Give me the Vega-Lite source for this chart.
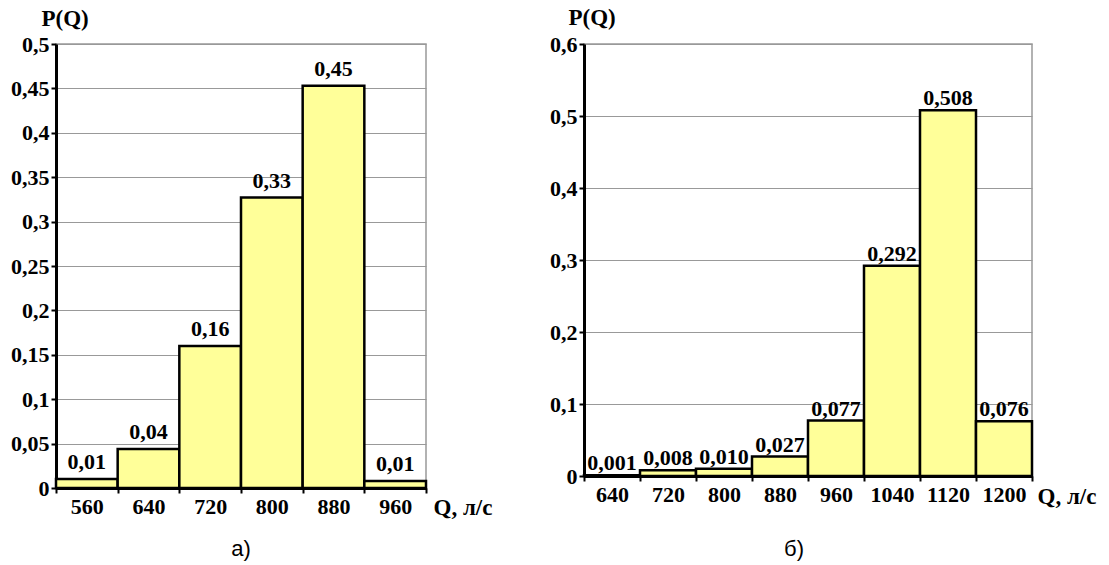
{
  "$schema": "https://vega.github.io/schema/vega-lite/v6.json",
  "background": "white",
  "padding": {"left": 9, "top": 5, "right": 5, "bottom": 5},
  "spacing": 55,
  "config": {
    "locale": {"number": {"decimal": ",", "thousands": " ", "grouping": [3], "currency": ["", ""]}},
    "font": "Liberation Serif",
    "view": {"stroke": "#999999", "strokeWidth": 1.5},
    "axis": {
      "domainColor": "black",
      "domainWidth": 3,
      "tickColor": "black",
      "tickWidth": 2,
      "tickSize": 5,
      "labelColor": "black",
      "labelFont": "Liberation Serif",
      "labelFontSize": 22,
      "labelFontWeight": "bold",
      "titleColor": "black",
      "titleFont": "Liberation Serif",
      "titleFontSize": 23,
      "titleFontWeight": "bold",
      "titleAngle": 0,
      "titleAlign": "left",
      "titleBaseline": "middle",
      "gridColor": "#999999",
      "gridWidth": 1.2
    }
  },
  "hconcat": [
    {
      "width": 370,
      "height": 444,
      "title": {"text": "а)", "orient": "bottom", "anchor": "middle", "frame": "group", "font": "Liberation Sans", "fontSize": 22, "fontWeight": "normal", "color": "black", "offset": 20},
      "data": {"values": [
        {"Q": 560, "P": 0.01},
        {"Q": 640, "P": 0.044},
        {"Q": 720, "P": 0.16},
        {"Q": 800, "P": 0.327},
        {"Q": 880, "P": 0.453},
        {"Q": 960, "P": 0.008}
      ]},
      "encoding": {
        "x": {"field": "Q", "type": "ordinal", "scale": {"paddingInner": 0, "paddingOuter": 0},
          "axis": {"title": "Q, л/с", "titleX": 377, "titleY": 19, "labelAngle": 0, "tickBand": "extent", "grid": false, "labelPadding": 3}},
        "y": {"field": "P", "type": "quantitative", "scale": {"domain": [0, 0.5]},
          "axis": {"title": "P(Q)", "titleX": -15, "titleY": -26, "values": [0, 0.05, 0.1, 0.15, 0.2, 0.25, 0.3, 0.35, 0.4, 0.45, 0.5], "format": "~g", "grid": true, "labelPadding": 2}}
      },
      "layer": [
        {"mark": {"type": "bar", "fill": "#ffff99", "stroke": "black", "strokeWidth": 2.5}},
        {"mark": {"type": "text", "baseline": "alphabetic", "dy": -10, "fontSize": 22, "fontWeight": "bold", "font": "Liberation Serif", "color": "black"},
          "encoding": {"text": {"field": "P", "type": "quantitative", "format": ".2f"}}}
      ]
    },
    {
      "width": 448,
      "height": 432,
      "title": {"text": "б)", "orient": "bottom", "anchor": "middle", "frame": "group", "dx": -14, "font": "Liberation Sans", "fontSize": 22, "fontWeight": "normal", "color": "black", "offset": 31},
      "data": {"values": [
        {"Q": 640, "P": 0.001},
        {"Q": 720, "P": 0.008},
        {"Q": 800, "P": 0.010},
        {"Q": 880, "P": 0.027},
        {"Q": 960, "P": 0.077},
        {"Q": 1040, "P": 0.292},
        {"Q": 1120, "P": 0.508},
        {"Q": 1200, "P": 0.076}
      ]},
      "encoding": {
        "x": {"field": "Q", "type": "ordinal", "scale": {"paddingInner": 0, "paddingOuter": 0},
          "axis": {"title": "Q, л/с", "titleX": 453, "titleY": 20, "labelAngle": 0, "tickBand": "extent", "grid": false, "labelPadding": 3}},
        "y": {"field": "P", "type": "quantitative", "scale": {"domain": [0, 0.6]},
          "axis": {"title": "P(Q)", "titleX": -16, "titleY": -27, "values": [0, 0.1, 0.2, 0.3, 0.4, 0.5, 0.6], "format": "~g", "grid": true, "labelPadding": 2}}
      },
      "layer": [
        {"mark": {"type": "bar", "fill": "#ffff99", "stroke": "black", "strokeWidth": 2.5}},
        {"mark": {"type": "text", "baseline": "alphabetic", "dy": -5, "fontSize": 22, "fontWeight": "bold", "font": "Liberation Serif", "color": "black"},
          "encoding": {"text": {"field": "P", "type": "quantitative", "format": ".3f"}}}
      ]
    }
  ]
}
